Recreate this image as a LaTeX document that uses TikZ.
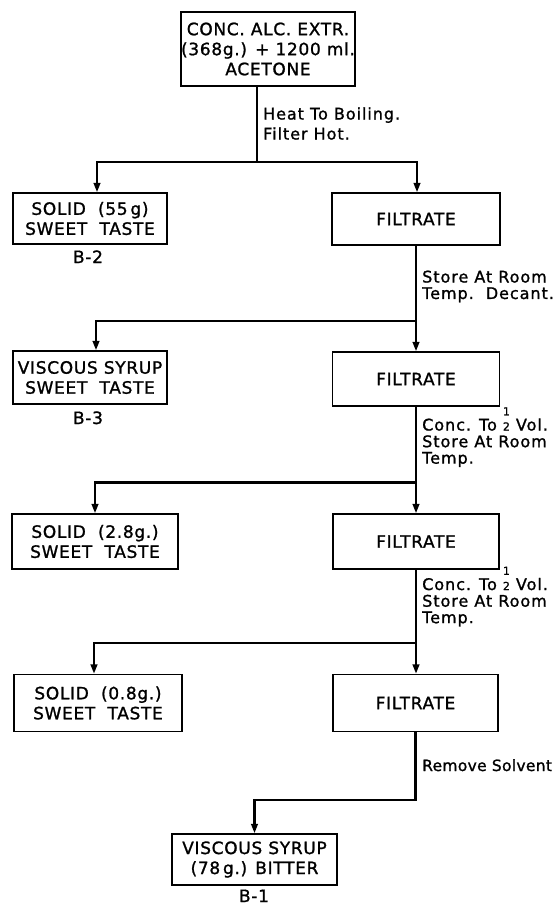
\documentclass[tikz,border=0pt]{standalone}
\usepackage{fontspec}
\setmainfont{DejaVu Sans}[LetterSpace=4,FakeBold=1.2]
\newfontfamily\lblfont{DejaVu Sans}[LetterSpace=6,FakeBold=1.2]
\newfontfamily\lblfontb{DejaVu Sans}[LetterSpace=2,FakeBold=1.2]
\usetikzlibrary{arrows.meta}
\newcommand\hlf{\ooalign{\hfil\raisebox{0.95em}{\fontsize{11}{11}\selectfont 1}\hfil\cr\fontsize{11}{11}\selectfont 2}}
\newcommand\lines[1]{\begin{tabular}[t]{@{}l@{}}#1\end{tabular}}
\begin{document}
\begin{tikzpicture}[x=1pt,y=-1pt,
  box/.style={draw, line width=1.3pt, align=center, inner sep=0pt,
    font=\fontsize{17}{20}\selectfont},
  tag/.style={inner sep=0pt, anchor=base, font=\fontsize{17}{20}\selectfont},
  lbl/.style={inner sep=0pt, anchor=base west, font=\lblfont\fontsize{16}{16}\selectfont},
  wire/.style={line width=2.4pt},
  arr/.style={line width=2.4pt, -{Triangle[length=9.5pt,width=6.5pt]}}]
\useasboundingbox (0,0) rectangle (558,905);

% boxes
\node[box, minimum width=174pt, minimum height=74pt] (top) at (268,49)
  {CONC. ALC. EXTR.\\(368g.) + 1200 ml.\\ACETONE};
\node[box, minimum width=154pt, minimum height=51pt] (s1) at (90,218.5)
  {SOLID\ \ (55\,g)\\SWEET\ \ TASTE};
\node[box, minimum width=168pt, minimum height=52pt] (f1) at (416,219) {FILTRATE};
\node[tag] (b2) at (88,263) {B-2};

\node[box, minimum width=154pt, minimum height=53pt] (s2) at (90,377.5)
  {VISCOUS SYRUP\\SWEET\ \ TASTE};
\node[box, minimum width=167pt, minimum height=54pt] (f2) at (416,379) {FILTRATE};
\node[tag] (b3) at (88,424) {B-3};

\node[box, minimum width=166pt, minimum height=55pt] (s3) at (95,541.5)
  {SOLID\ \ (2.8g.)\\SWEET\ \ TASTE};
\node[box, minimum width=166pt, minimum height=55pt] (f3) at (416,541.5) {FILTRATE};

\node[box, minimum width=168pt, minimum height=57pt] (s4) at (98,703)
  {SOLID\ \ (0.8g.)\\SWEET\ \ TASTE};
\node[box, minimum width=165pt, minimum height=57pt] (f4) at (415.5,703) {FILTRATE};

\node[box, minimum width=165pt, minimum height=51pt] (fin) at (254.5,859.5)
  {VISCOUS SYRUP\\(78\,g.) BITTER};
\node[tag] (b1) at (254,902) {B-1};

% labels
\node[lbl, font=\lblfont\fontsize{16}{20}\selectfont] (l1) at (263,119.5)
  {\lines{Heat To Boiling.\\Filter Hot.}};
\node[lbl] (l2) at (422,282.5) {\lines{Store\ At\ Room\\Temp.\ \ Decant.}};
\node[lbl] (l3) at (422,430.5) {\lines{Conc. To \hlf\ Vol.\\Store\ At\ Room\\Temp.}};
\node[lbl] (l4) at (422,590) {\lines{Conc. To \hlf\ Vol.\\Store\ At\ Room\\Temp.}};
\node[lbl, font=\lblfontb\fontsize{15.5}{16}\selectfont] (l5) at (422,771) {Remove Solvent};

% junctions
\coordinate (j1) at (257,162);
\coordinate (j2) at (416,321);
\coordinate (j3) at (416,482.5);
\coordinate (j4) at (416,643);
\coordinate (j5) at (254.5,800);

% connectors
\draw[wire] ([xshift=-11pt]top.south) -- (j1);
\draw[arr] (j1) -| ([xshift=7pt]s1.north);
\draw[arr] (j1) -| ([xshift=1pt]f1.north);

\draw[wire] (f1.south) -- (j2);
\draw[arr] (j2) -| ([xshift=6pt]s2.north);
\draw[arr] (j2) -- (f2.north);

\draw[wire] (f2.south) -- (j3);
\draw[arr] (j3) -| (s3.north);
\draw[arr] (j3) -- (f3.north);

\draw[wire] (f3.south) -- (j4);
\draw[arr] (j4) -| ([xshift=-4pt]s4.north);
\draw[arr] (j4) -- ([xshift=0.5pt]f4.north);

\draw[arr] (f4.south) |- (j5) -- (fin.north);
\end{tikzpicture}
\end{document}
